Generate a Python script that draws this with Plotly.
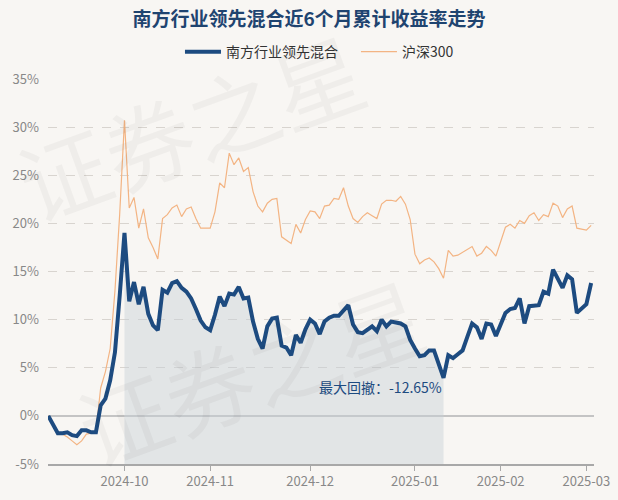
import pandas as pd
import plotly.graph_objects as go

# ---------------- data ----------------
holidays = ["2024-09-16", "2024-09-17", "2024-10-01", "2024-10-02", "2024-10-03",
            "2024-10-04", "2024-10-07", "2025-01-01", "2025-01-28", "2025-01-29",
            "2025-01-30", "2025-01-31", "2025-02-03", "2025-02-04"]
dates = [d.strftime("%Y-%m-%d") for d in pd.bdate_range("2024-09-05", "2025-03-04")
         if d.strftime("%Y-%m-%d") not in holidays]

fund_name = "南方行业领先混合"
fund = [0.0, -1.0, -1.8, -1.8, -1.7, -2.0, -2.1, -1.5, -1.5, -1.7,
        -1.7, 1.1, 1.8, 3.7, 6.6, 12.5, 19.0, 11.9, 13.9, 11.6,
        13.4, 10.6, 9.4, 8.9, 13.1, 12.8, 13.8, 14.0, 13.3, 12.9,
        12.2, 11.1, 9.9, 9.2, 8.9, 10.5, 12.4, 11.4, 12.7, 12.6,
        13.4, 12.2, 12.3, 9.8, 8.0, 7.0, 9.3, 10.1, 10.2, 7.3,
        7.1, 6.3, 8.4, 7.6, 9.0, 10.0, 9.6, 8.5, 9.8, 10.2,
        10.4, 10.4, 10.9, 11.5, 9.5, 8.7, 8.6, 9.0, 9.3, 8.8,
        10.0, 9.3, 9.8, 9.7, 9.6, 9.3, 7.9, 7.0, 6.2, 6.3,
        6.8, 6.8, 5.4, 3.95, 6.3, 6.0, 6.4, 6.8, 8.2, 9.6,
        9.2, 8.0, 9.6, 9.5, 8.3, 9.6, 10.7, 11.1, 11.2, 12.2,
        9.6, 11.4, 11.5, 11.5, 12.9, 12.7, 15.2, 14.3, 13.3, 14.6,
        14.2, 10.7, 11.1, 11.6, 13.8]

index_name = "沪深300"
hs300 = [0.0, -0.8, -1.7, -1.9, -2.2, -2.6, -3.0, -2.6, -1.9, -1.8,
         -1.6, 2.9, 4.6, 7.0, 13.0, 21.0, 30.7, 21.6, 22.7, 19.5,
         21.5, 18.5, 17.5, 16.3, 20.5, 20.9, 21.6, 21.9, 20.7, 21.5,
         21.7, 20.5, 19.5, 19.5, 19.5, 21.2, 24.2, 23.7, 27.3, 26.1,
         26.8, 25.4, 25.8, 23.3, 21.8, 21.2, 22.1, 22.5, 22.6, 18.6,
         18.2, 17.9, 19.9, 19.0, 20.4, 21.3, 21.2, 20.5, 21.8, 21.9,
         22.6, 22.5, 23.7, 21.8, 20.5, 20.1, 20.7, 21.1, 20.8, 20.5,
         22.0, 22.4, 22.4, 22.3, 22.8, 22.0, 20.4, 16.8, 15.8, 16.2,
         16.4, 16.0, 15.3, 14.3, 17.2, 16.6, 16.7, 17.0, 17.3, 17.6,
         16.6, 16.9, 17.6, 17.2, 16.6, 18.0, 19.6, 19.9, 19.5, 20.3,
         20.0, 20.8, 21.1, 20.3, 20.9, 20.7, 22.1, 21.8, 20.6, 21.5,
         21.8, 19.5, 19.4, 19.3, 19.8]

tick_labels = ["2024-10", "2024-11", "2024-12", "2025-01", "2025-02", "2025-03"]
y_ticks = [-5, 0, 5, 10, 15, 20, 25, 30, 35]
drawdown_text = "最大回撤：-12.65%"
title_text = "南方行业领先混合近6个月累计收益率走势"
watermark = "证券之星"

# ---------------- derived ----------------
n = len(fund)
xs = list(range(n))
tick_pos = [next(i for i, d in enumerate(dates) if d.startswith(t)) for t in tick_labels]
peak_i = max(range(n), key=lambda i: fund[i])
trough_i = min(range(peak_i, n), key=lambda i: fund[i])

FONT = "Noto Sans CJK SC, Noto Sans, sans-serif"
NAVY = "#1d4b80"
ORANGE = "#f3b483"
BG = "#f8f6f3"

fig = go.Figure()

# drawdown shading (under fund curve, from peak to trough)
seg = list(range(peak_i, trough_i + 1))
fig.add_trace(go.Scatter(x=seg, y=[y_ticks[0]] * len(seg), mode="lines",
                         line=dict(width=0), hoverinfo="skip", showlegend=False))
fig.add_trace(go.Scatter(x=seg, y=[fund[i] for i in seg], mode="lines",
                         line=dict(width=0), fill="tonexty",
                         fillcolor="rgba(200,208,216,0.45)",
                         hoverinfo="skip", showlegend=False))

fig.add_trace(go.Scatter(x=xs, y=hs300, mode="lines", name=index_name,
                         customdata=dates,
                         line=dict(color=ORANGE, width=1.2)))
fig.add_trace(go.Scatter(x=xs, y=fund, mode="lines", name=fund_name,
                         customdata=dates,
                         line=dict(color=NAVY, width=4)))

# faint watermarks (pixel centres converted to paper coords)
for (cx, cy) in [(190, 125), (250, 370)]:
    fig.add_annotation(x=(cx - 48) / 546, y=(464 - cy) / 385, xref="paper", yref="paper",
                       xanchor="center", yanchor="middle", text=watermark,
                       showarrow=False, textangle=-20,
                       font=dict(family=FONT, size=90, color="rgba(0,0,0,0.035)"))

fig.add_annotation(x=trough_i, y=3.0, text=drawdown_text, showarrow=False,
                   xanchor="right", yanchor="middle", xshift=0,
                   font=dict(family=FONT, size=14, color=NAVY))

fig.update_layout(
    width=618, height=500,
    paper_bgcolor=BG, plot_bgcolor=BG,
    margin=dict(l=48, r=24, t=79, b=36, autoexpand=False),
    font=dict(family=FONT, color="#555"),
    title=dict(text="<b>" + title_text + "</b>", x=0.5, xanchor="center",
               y=0.962, yanchor="middle",
               font=dict(family=FONT, size=19, color="#1f4470")),
    legend=dict(orientation="h", x=0.2417, xanchor="left", y=1.07, yanchor="middle",
                traceorder="reversed", bgcolor="rgba(0,0,0,0)",
                font=dict(family=FONT, size=14, color="#333"),
                itemwidth=36, entrywidthmode="pixels", entrywidth=125),
    showlegend=True,
    hovermode="x unified",
)

fig.update_xaxes(range=[-0.06, 114.6], tickmode="array", tickvals=tick_pos,
                 ticktext=tick_labels, showgrid=False, zeroline=False,
                 showline=True, linecolor="#a8a8a8", linewidth=1.5,
                 ticks="outside", ticklen=5, tickcolor="#a8a8a8", automargin=False,
                 tickfont=dict(family=FONT, size=13, color="#888"))
fig.update_yaxes(range=[-5, 35], tickmode="array", tickvals=y_ticks,
                 ticktext=[f"{v}%" for v in y_ticks],
                 showgrid=True, gridcolor="#d8d4cf", griddash="dash", gridwidth=1,
                 zeroline=True, zerolinecolor="#c4c4c4", zerolinewidth=2,
                 showline=False, ticks="", ticklabelstandoff=8, automargin=False,
                 tickfont=dict(family=FONT, size=13, color="#888"))

fig.write_html("out.html", config={"displayModeBar": False},
               post_script="document.body.style.margin='0';document.body.style.overflow='hidden';")
